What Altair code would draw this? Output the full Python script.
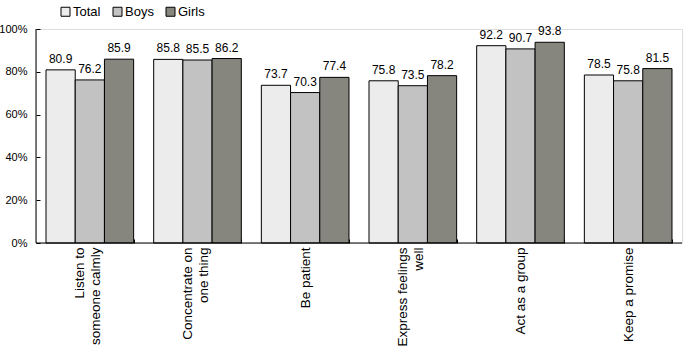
import altair as alt
import pandas as pd

categories = ["Listen to|someone calmly", "Concentrate on|one thing", "Be patient",
              "Express feelings|well", "Act as a group", "Keep a promise"]
groups = ["Total", "Boys", "Girls"]
total = [80.9, 85.8, 73.7, 75.8, 92.2, 78.5]
boys = [76.2, 85.5, 70.3, 73.5, 90.7, 75.8]
girls = [85.9, 86.2, 77.4, 78.2, 93.8, 81.5]
y_ticks = [0, 20, 40, 60, 80, 100]
colors = ["#ececec", "#c2c2c2", "#86867e"]

rows = []
for i, c in enumerate(categories):
    for g, vals in zip(groups, [total, boys, girls]):
        rows.append({"category": c, "group": g, "value": vals[i]})
df = pd.DataFrame(rows)
one = pd.DataFrame({"v": [0]})

FONT = "Liberation Sans"

x_axis = alt.Axis(labelAngle=-90, labelExpr="split(datum.label, '|')", tickBand="extent",
                  offset=-4, tickSize=4, domain=False, labelPadding=4, labelFontSize=13.5,
                  labelLineHeight=16, labelColor="black", tickColor="black", grid=False,
                  labelLimit=300, labelFont=FONT,
                  labelOffset=alt.ConditionalAxisNumber(
                      condition={"test": "test(/[|]/, datum.value)", "value": -10},
                      value=0))
x_scale = alt.Scale(paddingInner=0.186, paddingOuter=0.093)
xoff = alt.XOffset("group:N", sort=groups, scale=alt.Scale(paddingInner=0, paddingOuter=0))
y_enc = alt.Y(
    "value:Q", title=None, scale=alt.Scale(domain=[0, 100], nice=False),
    axis=alt.Axis(values=y_ticks, labelExpr="datum.value + '%'", offset=-4, tickSize=4,
                  domain=False, labelPadding=9, grid=False, labelFontSize=11,
                  labelColor="black", tickColor="black", labelFont=FONT),
)

base = alt.Chart(df)
bars = base.mark_bar(stroke="black", strokeWidth=1).encode(
    x=alt.X("category:N", sort=categories, title=None, scale=x_scale, axis=x_axis),
    xOffset=xoff, y=y_enc,
    fill=alt.Fill("group:N", sort=groups,
                  scale=alt.Scale(domain=groups, range=colors),
                  legend=alt.Legend(title=None, orient="none", legendX=23, legendY=-24,
                                    direction="horizontal", symbolType="square",
                                    symbolSize=81, symbolStrokeColor="black",
                                    symbolStrokeWidth=1, labelFontSize=13, labelOffset=1,
                                    columnPadding=10, labelColor="black", labelFont=FONT)),
)
text = base.mark_text(baseline="bottom", dy=-4, fontSize=12, color="black", font=FONT).encode(
    x=alt.X("category:N", sort=categories, title=None),
    xOffset=xoff, y=alt.Y("value:Q"), text=alt.Text("value:Q", format=".1f"),
)
xline = alt.Chart(one).mark_rule(color="black", strokeWidth=1).encode(y=alt.datum(0))
yline = alt.Chart(one).mark_rule(color="black", strokeWidth=1).encode(
    x=alt.value(0), y=alt.datum(0), y2=alt.datum(100))

chart = alt.layer(bars, text, xline, yline).properties(
    width=646, height=214, autosize="none",
    padding={"left": 36, "top": 29, "right": 5, "bottom": 109},
    background="white",
).configure_view(stroke=None).configure(font=FONT)

chart.save("out.html", embed_options={"renderer": "svg", "actions": False})
